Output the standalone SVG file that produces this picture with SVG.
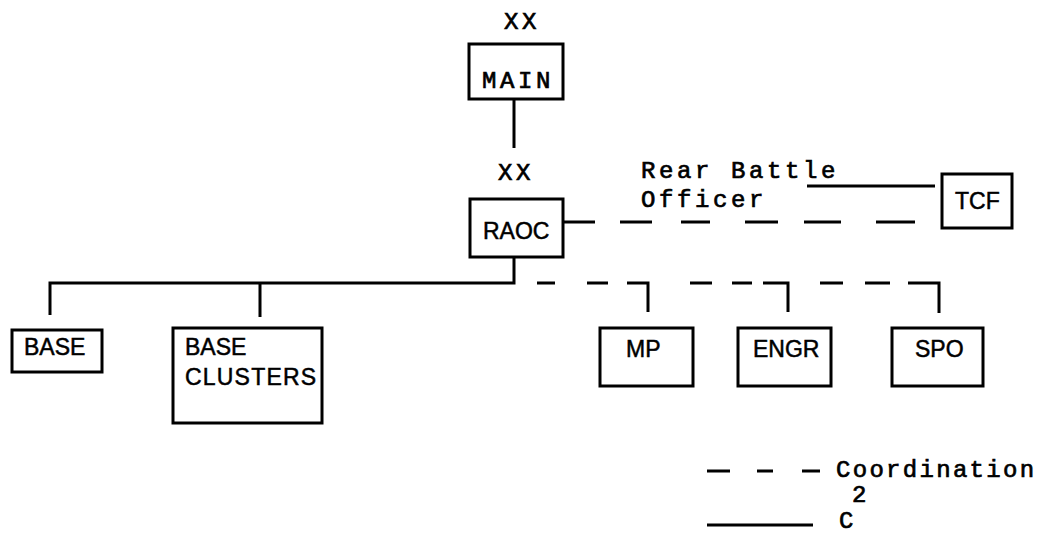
<svg xmlns="http://www.w3.org/2000/svg" width="1053" height="533" viewBox="0 0 1053 533">
<style>
.box{fill:#fff;stroke:#000;stroke-width:3}
.ln{fill:none;stroke:#000;stroke-width:3}
.lbl{font-family:"Liberation Sans",Arial,sans-serif;font-size:23px;fill:#000;stroke:#000;stroke-width:0.5}
.mono{font-family:"Liberation Mono","DejaVu Sans Mono",monospace;font-size:24px;letter-spacing:3.6px;fill:#000;stroke:#000;stroke-width:0.7}
.leg{font-family:"Liberation Mono","DejaVu Sans Mono",monospace;font-size:24px;letter-spacing:2.3px;fill:#000;stroke:#000;stroke-width:0.7}
</style>
<rect width="1053" height="533" fill="#fff"/>
<g id="connectors">
<path class="ln" d="M514,99 V148"/>
<path class="ln" d="M563,222 H595 M620,222 H652 M681,222 H710 M745,222 H778 M804,222 H841 M876,222 H915"/>
<path class="ln" d="M807,186 H935"/>
<path class="ln" d="M514,257 V283 H50 V315 M260,283 V317"/>
<path class="ln" d="M537,283 H555 M587,283 H608 M627,283 H648 V312 M690,283 H712 M732,283 H752 M763,283 H788 V312 M820,283 H843 M865,283 H890 M908,283 H939 V313"/>
</g>
<g id="main">
<text class="mono" x="504" y="29">XX</text>
<rect class="box" x="469" y="44" width="94" height="55"/>
<text class="mono" x="482" y="88">MAIN</text>
</g>
<g id="raoc">
<text class="mono" x="498" y="180">XX</text>
<rect class="box" x="470" y="199" width="93" height="58"/>
<text class="lbl" x="483" y="239">RAOC</text>
</g>
<g id="rear-battle-officer">
<text class="mono" x="641" y="178">Rear Battle</text>
<text class="mono" x="641" y="207">Officer</text>
</g>
<g id="tcf">
<rect class="box" x="942" y="174" width="70" height="54"/>
<text class="lbl" x="955" y="209">TCF</text>
</g>
<g id="base">
<rect class="box" x="12" y="330" width="90" height="42"/>
<text class="lbl" x="24" y="355">BASE</text>
</g>
<g id="base-clusters">
<rect class="box" x="173" y="328" width="149" height="95"/>
<text class="lbl" x="185" y="355">BASE</text>
<text class="lbl" x="185" y="385" letter-spacing="1.2">CLUSTERS</text>
</g>
<g id="mp">
<rect class="box" x="600" y="328" width="93" height="58"/>
<text class="lbl" x="626" y="357">MP</text>
</g>
<g id="engr">
<rect class="box" x="738" y="328" width="93" height="58"/>
<text class="lbl" x="753" y="357">ENGR</text>
</g>
<g id="spo">
<rect class="box" x="892" y="328" width="91" height="58"/>
<text class="lbl" x="915" y="357">SPO</text>
</g>
<g id="legend">
<path class="ln" d="M707,471 H730 M757,471 H773 M802,471 H820"/>
<text class="leg" x="836" y="477">Coordination</text>
<text class="leg" x="852" y="502">2</text>
<path class="ln" d="M707,525 H813"/>
<text class="leg" x="839" y="528">C</text>
</g>
</svg>
